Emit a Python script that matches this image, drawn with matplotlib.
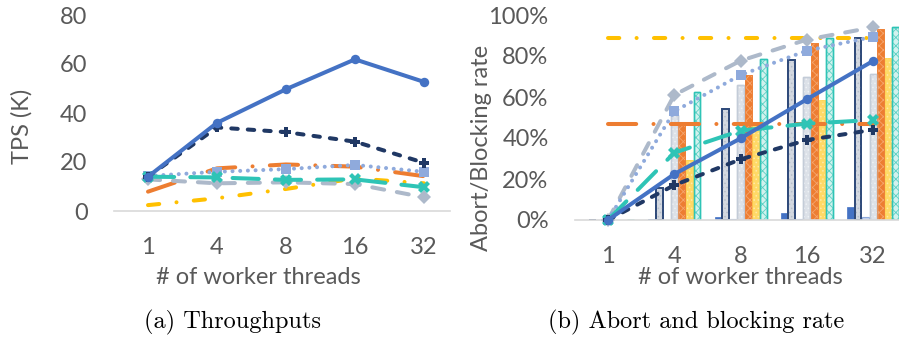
import matplotlib
matplotlib.use('Agg')
import matplotlib.pyplot as plt
import numpy as np

threads = ['1', '4', '8', '16', '32']

# (a) throughput, K TPS
tps_blue = [14.0, 36.0, 49.7, 61.9, 52.7]
tps_navy = [14.0, 34.1, 32.2, 28.3, 19.7]
tps_lblue = [14.3, 16.0, 17.1, 18.8, 16.0]
tps_gray = [12.9, 11.3, 11.7, 11.0, 5.6]
tps_orange = [7.9, 17.4, 19.0, 18.1, 14.2]
tps_yellow = [2.4, 5.2, 9.0, 13.3, 11.3]
tps_teal = [14.0, 13.7, 12.7, 12.9, 9.7]

# (b) abort / blocking rate, percent (lines)
rate_blue = [0, 22.4, 39.8, 58.9, 77.6]
rate_navy = [0, 17.0, 29.6, 39.0, 44.0]
rate_lblue = [0, 53.0, 70.7, 82.6, 89.4]
rate_gray = [0, 61.0, 77.7, 88.0, 94.0]
rate_orange = [46.8, 46.8, 46.8, 46.8, 46.8]
rate_yellow = [88.6, 88.6, 88.6, 88.6, 88.6]
rate_teal = [0, 32.8, 43.6, 47.0, 48.8]

# (b) bars, percent
bar_blue = [0, 0.5, 1.5, 3.6, 6.5]
bar_navy = [0, 15.8, 54.0, 78.0, 89.0]
bar_lblue = [0, 0.2, 0.3, 0.5, 1.6]
bar_gray = [0, 51.0, 66.0, 70.0, 71.0]
bar_orange = [0, 48.0, 70.7, 86.5, 93.0]
bar_yellow = [0, 29.4, 47.6, 58.5, 79.0]
bar_teal = [0, 62.4, 78.5, 88.6, 94.3]

TXT = '#595959'
AXC = '#D9D9D9'
plt.rcParams['font.family'] = ['Lato', 'DejaVu Sans']
plt.rcParams['hatch.linewidth'] = 0.6

LW = 2.9
line_styles = {
    'blue':   dict(color='#4472C4', ls='-', marker='o', ms=6.8),
    'navy':   dict(color='#203864', ls=(0, (1.6, 2.5)), marker='P', ms=7.8),
    'lblue':  dict(color='#8FAADC', ls=(0, (0.01, 1.9)), marker='s', ms=7.2),
    'gray':   dict(color='#ADB9CA', ls=(0, (3.0, 3.2)), marker='D', ms=6.8),
    'orange': dict(color='#ED7D31', ls=(0, (7.0, 4.3, 0.01, 4.3)), marker=None, ms=0),
    'yellow': dict(color='#FFC000', ls=(0, (2.8, 4.3, 0.01, 4.3)), marker=None, ms=0),
    'teal':   dict(color='#2EC4B6', ls=(0, (6.5, 4.0)), marker='X', ms=9),
}

fig = plt.figure(figsize=(8.99, 3.43), dpi=100)
W, H = 899, 343


def px_axes(x0, y0, x1, y1):
    return fig.add_axes([x0 / W, 1 - y1 / H, (x1 - x0) / W, (y1 - y0) / H])


def style_axes(ax):
    for s in ['top', 'right', 'left']:
        ax.spines[s].set_visible(False)
    ax.spines['bottom'].set_color(AXC)
    ax.spines['bottom'].set_linewidth(1.2)
    ax.tick_params(length=0, labelsize=17, labelcolor=TXT)
    ax.tick_params(axis='y', pad=19)
    ax.tick_params(axis='x', pad=19)


def draw_lines(ax, series):
    x = np.arange(len(threads))
    for key, vals in series:
        st = line_styles[key]
        ax.plot(x, vals, color=st['color'], ls=st['ls'], lw=LW,
                marker=st['marker'], ms=st['ms'], dash_capstyle='round',
                markeredgewidth=0, zorder=5, clip_on=False)


# ---- (a) throughput
ax1 = px_axes(114, 15, 450, 211)
style_axes(ax1)
draw_lines(ax1, [('yellow', tps_yellow), ('orange', tps_orange),
                 ('gray', tps_gray), ('lblue', tps_lblue),
                 ('teal', tps_teal), ('navy', tps_navy), ('blue', tps_blue)])
ax1.set_xlim(-0.493, 4.377)
ax1.set_ylim(0, 80)
ax1.set_yticks([0, 20, 40, 60, 80])
ax1.set_xticks(range(len(threads)))
ax1.set_xticklabels(threads)

# ---- (b) abort / blocking
ax2 = px_axes(575, 15, 899, 220)
style_axes(ax2)
x = np.arange(len(threads))
w = 0.114
# (values, face, outline, outline width, hatch, hatch colour)
bars = [
    (bar_blue, '#4472C4', '#4472C4', 0.5, None, None),
    (bar_navy, '#D3D8E0', '#2F4A7A', 1.3, '....', '#B5BDCA'),
    (bar_lblue, '#C5D3EC', '#8FAADC', 0.8, None, None),
    (bar_gray, '#DCE1E8', '#C3CCD8', 1.0, '....', '#EEF1F5'),
    (bar_orange, '#ED7D31', '#ED7D31', 0.5, 'xxxx', '#F5A56E'),
    (bar_yellow, '#FFD966', '#FFD24D', 0.5, '....', '#FFE9A8'),
    (bar_teal, '#D2F2EE', '#2EC4B6', 1.0, 'xxxx', '#5BD0C4'),
]
for i, (vals, face, edge, elw, hatch, hcol) in enumerate(bars):
    pos = x + (i - 3) * w
    ax2.bar(pos, vals, width=w * 0.9, color=face, edgecolor=edge, lw=elw, zorder=2)
    if hatch:
        ax2.bar(pos, vals, width=w * 0.9, fill=False, edgecolor=hcol, lw=0,
                hatch=hatch, zorder=2.1)
        ax2.bar(pos, vals, width=w * 0.9, fill=False, edgecolor=edge, lw=elw,
                zorder=2.2)

draw_lines(ax2, [('yellow', rate_yellow), ('orange', rate_orange),
                 ('gray', rate_gray), ('lblue', rate_lblue),
                 ('teal', rate_teal), ('navy', rate_navy), ('blue', rate_blue)])
ax2.set_xlim(-0.498, 4.39)
ax2.set_ylim(0, 100)
ax2.set_yticks([0, 20, 40, 60, 80, 100])
ax2.set_yticklabels([f'{v}%' for v in [0, 20, 40, 60, 80, 100]])
ax2.set_xticks(range(len(threads)))
ax2.set_xticklabels(threads)

# axis titles
fig.text(22 / W, 1 - 126 / H, 'TPS (K)', rotation=90, ha='center', va='center',
         fontsize=17, color=TXT)
fig.text(258 / W, 1 - 277 / H, '# of worker threads', ha='center', va='center',
         fontsize=17, color=TXT)
fig.text(482 / W, 1 - 148 / H, 'Abort/Blocking rate', rotation=90, ha='center',
         va='center', fontsize=17, color=TXT)
fig.text(740 / W, 1 - 277 / H, '# of worker threads', ha='center', va='center',
         fontsize=17, color=TXT)

# captions
fig.text(232 / W, 1 - 322 / H, '(a) Throughputs', ha='center', va='center',
         fontsize=17.5, family='cmr10', color='black')
fig.text(696 / W, 1 - 322 / H, '(b) Abort and blocking rate', ha='center',
         va='center', fontsize=17.5, family='cmr10', color='black')

fig.savefig('out.png', dpi=100)
